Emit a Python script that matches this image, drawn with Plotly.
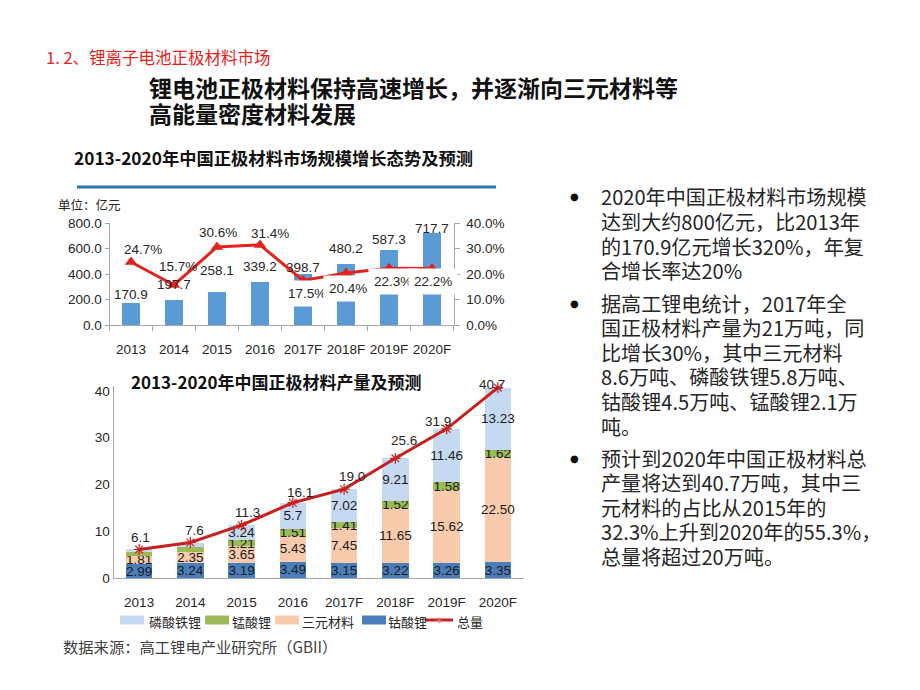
import plotly.graph_objects as go

# page offset (browser body margin) and figure size
OFF = 8
W, H = 920 - OFF, 690 - OFF

# ---------------- data ----------------
years = ["2013", "2014", "2015", "2016", "2017F", "2018F", "2019F", "2020F"]

# top chart: market size (亿元) and growth rate (%)
market_size = [170.9, 197.7, 258.1, 339.2, 398.7, 480.2, 587.3, 717.7]
growth_pct = [24.7, 15.7, 30.6, 31.4, 17.5, 20.4, 22.3, 22.2]

# bottom chart: production (万吨)
lco = [2.99, 3.24, 3.19, 3.49, 3.15, 3.22, 3.26, 3.35]        # 钴酸锂
ncm = [1.81, 2.35, 3.65, 5.43, 7.45, 11.65, 15.62, 22.50]     # 三元材料
lmo = [0.8, 1.1, 1.21, 1.51, 1.41, 1.52, 1.58, 1.62]          # 锰酸锂
lfp = [0.5, 0.9, 3.24, 5.7, 7.02, 9.21, 11.46, 13.23]         # 磷酸铁锂
total = [6.1, 7.6, 11.3, 16.1, 19.0, 25.6, 31.9, 40.7]        # 总量

lco_labels = ["2.99", "3.24", "3.19", "3.49", "3.15", "3.22", "3.26", "3.35"]
ncm_labels = ["1.81", "2.35", "3.65", "5.43", "7.45", "11.65", "15.62", "22.50"]
lmo_labels = ["", "", "1.21", "1.51", "1.41", "1.52", "1.58", "1.62"]
lfp_labels = ["", "", "3.24", "5.7", "7.02", "9.21", "11.46", "13.23"]

series_names = ["磷酸铁锂", "锰酸锂", "三元材料", "钴酸锂", "总量"]

bullets = [
    ["2020年中国正极材料市场规模", "达到大约800亿元，比2013年", "的170.9亿元增长320%，年复", "合增长率达20%"],
    ["据高工锂电统计，2017年全", "国正极材料产量为21万吨，同", "比增长30%，其中三元材料",
     "8.6万吨、磷酸铁锂5.8万吨、", "钴酸锂4.5万吨、锰酸锂2.1万", "吨。"],
    ["预计到2020年中国正极材料总", "产量将达到40.7万吨，其中三", "元材料的占比从2015年的",
     "32.3%上升到2020年的55.3%，", "总量将超过20万吨。"],
]

# ---------------- styles ----------------
NUM_FONT = "Liberation Sans, Arial, sans-serif"
CJK_FONT = "Noto Sans CJK SC, sans-serif"
TXT = "#262626"
C_BAR = "#5B9BD5"
C_GROW = "#E3231B"
C_LFP, C_LMO, C_NCM, C_LCO = "#C5D9F1", "#9BBB59", "#F8CBAD", "#4A7EBB"
C_TOT = "#C8201F"


def px(x):
    return (x - OFF) / W


def py(y):
    return 1 - (y - OFF) / H


fig = go.Figure()

# ---- top chart ----
fig.add_trace(go.Bar(x=years, y=market_size, xaxis="x", yaxis="y", width=0.4,
                     marker=dict(color=C_BAR, line=dict(width=0)), showlegend=False))
fig.add_trace(go.Scatter(x=years, y=growth_pct, xaxis="x", yaxis="y2", mode="lines+markers",
                         line=dict(color=C_GROW, width=3),
                         marker=dict(symbol="triangle-up", size=11, color=C_GROW),
                         showlegend=False))

# ---- bottom chart ----
for vals, labs, col, nm in [(lco, lco_labels, C_LCO, series_names[3]), (ncm, ncm_labels, C_NCM, series_names[2]),
                            (lmo, lmo_labels, C_LMO, series_names[1]), (lfp, lfp_labels, C_LFP, series_names[0])]:
    fig.add_trace(go.Bar(x=years, y=vals, name=nm, xaxis="x2", yaxis="y3", width=0.52,
                         marker=dict(color=col, line=dict(width=0)),
                         text=labs, textposition="inside", insidetextanchor="middle",
                         textangle=0, constraintext="none",
                         textfont=dict(family=NUM_FONT, size=13.5, color="#1a1a1a"),
                         showlegend=False))
fig.add_trace(go.Scatter(x=years, y=total, name=series_names[4], xaxis="x2", yaxis="y3",
                         mode="lines+markers",
                         line=dict(color=C_TOT, width=3),
                         marker=dict(symbol="asterisk-open", size=9,
                                     line=dict(color="#D9706E", width=1.2)),
                         showlegend=False, cliponaxis=False))

axis_line = "#A6A6A6"
tick_font = dict(family=NUM_FONT, size=13.5, color=TXT)
cat_range = [-0.5, len(years) - 0.5]

fig.update_layout(
    template="none",
    width=W, height=H, margin=dict(l=0, r=0, t=0, b=0),
    paper_bgcolor="white", plot_bgcolor="rgba(0,0,0,0)",
    barmode="stack", showlegend=False, hovermode=False,
    font=dict(family=CJK_FONT),
    xaxis=dict(domain=[px(109.5), px(453.5)], anchor="y", type="category",
               range=cat_range, autorange=False,
               showline=True, linecolor=axis_line, linewidth=1,
               ticks="outside", tickson="boundaries", ticklen=5, tickcolor=axis_line,
               ticklabelstandoff=12,
               tickfont=tick_font, tickangle=0, showgrid=False, zeroline=False),
    yaxis=dict(domain=[py(325), py(223)], anchor="x", range=[0, 800], dtick=200,
               tickformat=".1f", showline=True, linecolor=axis_line, ticks="outside",
               ticklen=4, tickcolor=axis_line, tickfont=tick_font,
               showgrid=False, zeroline=False),
    yaxis2=dict(overlaying="y", side="right", anchor="x", range=[0, 40], dtick=10,
                tickformat=".1f", ticksuffix="%", showline=True, linecolor=axis_line,
                ticks="outside", ticklen=5, tickcolor=axis_line, tickfont=tick_font,
                ticklabelstandoff=4,
                showgrid=False, zeroline=False),
    xaxis2=dict(domain=[px(113.5), px(523.5)], anchor="y3", type="category",
                range=cat_range, autorange=False,
                showline=True, linecolor=axis_line, linewidth=1, ticks="",
                ticklabelstandoff=12,
                tickfont=tick_font, tickangle=0, showgrid=False, zeroline=False),
    yaxis3=dict(domain=[py(578), py(386.3)], anchor="x2", range=[0, 41],
                tickvals=[0, 10, 20, 30, 40], showline=True, linecolor=axis_line,
                ticks="", tickfont=tick_font, showgrid=False, zeroline=False),
)

ann = []

# bar value labels (top chart)
bar_lab_dy = [9, 15, 22, 15, 7, 15, 11, 5]
for i, (v, dy) in enumerate(zip(market_size, bar_lab_dy)):
    ann.append(dict(x=i, y=v, xref="x", yref="y", text=f"{v:.1f}", showarrow=False,
                    yanchor="middle", yshift=dy, font=dict(family=NUM_FONT, size=13.5, color=TXT)))
# growth labels (top chart), white boxed when below the line
grow_dx = [12, 4, 1, 10, 4, 2, 4, 1]
grow_dy = [13, 18, 14, 11, -13, -16, -13, -13]
for i, (v, dx, dy) in enumerate(zip(growth_pct, grow_dx, grow_dy)):
    ann.append(dict(x=i, y=v, xref="x", yref="y2", text=f"{v:.1f}%", showarrow=False,
                    xshift=dx, yshift=dy, bgcolor="white" if dy < 0 else "rgba(0,0,0,0)",
                    borderpad=5, font=dict(family=NUM_FONT, size=13.5, color=TXT)))
# total labels (bottom chart)
tot_dx = [1, 4, 6, 7, 8, 9, -9, -6]
tot_dy = [12, 12, 13, 10, 13, 18, 7, 3]
for i, (v, dx, dy) in enumerate(zip(total, tot_dx, tot_dy)):
    ann.append(dict(x=i, y=v, xref="x2", yref="y3", text=f"{v:.1f}", showarrow=False,
                    xshift=dx, yshift=dy, font=dict(family=NUM_FONT, size=13.5, color=TXT)))


def ptext(x, y, text, size, color, family=CJK_FONT, xanchor="left"):
    ann.append(dict(x=px(x), y=py(y), xref="paper", yref="paper", xanchor=xanchor,
                    yanchor="middle", text=text, showarrow=False,
                    font=dict(family=family, size=size, color=color)))


# slide texts
ptext(44, 57, "1. 2、锂离子电池正极材料市场", 16.5, "#E8211C")
ptext(147, 87, "<b>锂电池正极材料保持高速增长，并逐渐向三元材料等</b>", 23, "#111111")
ptext(147, 113, "<b>高能量密度材料发展</b>", 23, "#111111")
ptext(72, 157, "<b>2013-2020年中国正极材料市场规模增长态势及预测</b>", 17.3, "#111111")
ptext(56, 205, "单位：亿元", 12.5, TXT)
ptext(129, 381, "<b>2013-2020年中国正极材料产量及预测</b>", 17, "#111111")
ptext(61, 646, "数据来源：高工锂电产业研究所（GBII）", 15.3, "#404040")

# bullet paragraphs
para_top = [197, 303, 458]
line_step = 24.6
for lines, y0 in zip(bullets, para_top):
    ptext(574, y0, "●", 10, "#111111", family="DejaVu Sans", xanchor="center")
    for i, t in enumerate(lines):
        ptext(599, y0 + i * line_step, t, 20.1, TXT)

# manual legend (bottom chart)
shapes = []
leg_cols = [C_LFP, C_LMO, C_NCM, C_LCO]
sw_x = [120, 205, 275, 362]
tx_x = [147, 230, 300, 386, 455]
ly = 620
for c, x0 in zip(leg_cols, sw_x):
    shapes.append(dict(type="rect", xref="paper", yref="paper", x0=px(x0), x1=px(x0 + 24),
                       y0=py(ly + 4.5), y1=py(ly - 4.5), fillcolor=c, line=dict(width=0)))
shapes.append(dict(type="line", xref="paper", yref="paper", x0=px(425), x1=px(453),
                   y0=py(ly), y1=py(ly), line=dict(color=C_TOT, width=3)))
ptext(439, ly, "✳", 10, "#D9706E", family="DejaVu Sans", xanchor="center")
for name, x0 in zip(series_names, tx_x):
    ptext(x0, ly + 1, name, 13, TXT)

# blue rule under top title
shapes.append(dict(type="line", xref="paper", yref="paper", x0=px(77), x1=px(496),
                   y0=py(187), y1=py(187), line=dict(color="#2F75B5", width=3)))

fig.update_layout(annotations=ann, shapes=shapes)
fig.write_html("out.html")
